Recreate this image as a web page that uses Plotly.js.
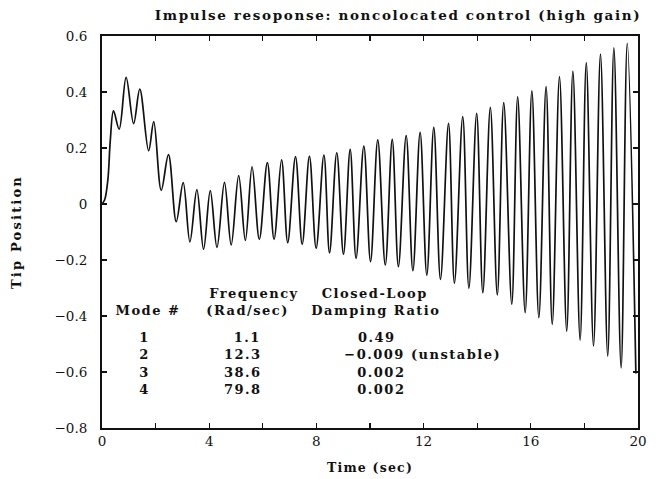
<!DOCTYPE html>
<html>
<head>
<meta charset="utf-8">
<script src="https://cdn.plot.ly/plotly-3.0.1.min.js"></script>
<style>
  html, body { margin: 0; padding: 0; background: #fff; }
  #plot { width: 658px; height: 479px; }
  #plot .annotation-text { letter-spacing: 1.5px; }
  #plot .gtitle { letter-spacing: 1.65px; }
  #plot .xtitle { letter-spacing: 1.2px; }
  #plot .ytitle { letter-spacing: 2.2px; }
</style>
</head>
<body>
<div id="plot"></div>
<script>
// Tip position (time in sec, value)
const timeSec = [0, 0.10, 0.22, 0.31, 0.43, 0.64, 0.90, 1.18, 1.41, 1.74, 1.93, 2.21, 2.48, 2.77, 3.03,
  3.28, 3.54, 3.79, 4.04, 4.29, 4.57, 4.82, 5.10, 5.35, 5.60, 5.87, 6.17, 6.42, 6.70, 6.93,
  7.22, 7.47, 7.74, 7.99, 8.28, 8.49, 8.76, 9.01, 9.26, 9.48, 9.77, 10.02, 10.29, 10.57, 10.83,
  11.06, 11.35, 11.60, 11.87, 12.12, 12.38, 12.63, 12.93, 13.15, 13.46, 13.69, 13.98, 14.21,
  14.49, 14.75, 14.99, 15.29, 15.51, 15.79, 16.04, 16.30, 16.57, 16.80, 17.07, 17.34, 17.57,
  17.84, 18.07, 18.34, 18.60, 18.87, 19.10, 19.37, 19.60, 19.92];
const tipPosition = [0, 0.015, 0.088, 0.228, 0.333, 0.267, 0.452, 0.287, 0.410, 0.190, 0.294, 0.049, 0.176, -0.063, 0.076,
  -0.135, 0.051, -0.162, 0.048, -0.155, 0.077, -0.146, 0.101, -0.130, 0.133, -0.126, 0.148, -0.126, 0.158, -0.138,
  0.169, -0.144, 0.171, -0.158, 0.175, -0.174, 0.183, -0.179, 0.195, -0.194, 0.207, -0.206, 0.229, -0.218, 0.231,
  -0.224, 0.244, -0.238, 0.256, -0.254, 0.274, -0.269, 0.288, -0.283, 0.312, -0.301, 0.324, -0.317,
  0.345, -0.325, 0.362, -0.358, 0.383, -0.388, 0.404, -0.406, 0.419, -0.430, 0.455, -0.454, 0.475,
  -0.486, 0.505, -0.507, 0.535, -0.543, 0.558, -0.585, 0.574, -0.605];

// Table of modes
const modeNumbers = ['1', '2', '3', '4'];
const frequencies = ['1.1', '12.3', '38.6', '79.8'];
const dampingRatios = ['0.49', '\u22120.009 (unstable)', '0.002', '0.002'];
const rowY = [-0.475, -0.539, -0.603, -0.664];

const xTickVals = [0, 2, 4, 6, 8, 10, 12, 14, 16, 18, 20];
const xTickText = ['0', '', '4', '', '8', '', '12', '', '16', '', '20'];
const yTickVals = [-0.8, -0.6, -0.4, -0.2, 0, 0.2, 0.4, 0.6];

const FONT = 'DejaVu Serif, Liberation Serif, serif';
const INK = '#111';

const annotations = [];
function addText(text, x, y, anchor) {
  annotations.push({ text: '<b>' + text + '</b>', x: x, y: y, xref: 'x', yref: 'y',
    xanchor: anchor, yanchor: 'middle', showarrow: false, borderpad: 0,
    font: { family: FONT, size: 13, color: INK } });
}
addText('Frequency', 5.69, -0.321, 'center');
addText('Closed-Loop', 10.17, -0.321, 'center');
addText('Mode #', 1.70, -0.382, 'center');
addText('(Rad/sec)', 5.43, -0.382, 'center');
addText('Damping Ratio', 10.24, -0.382, 'center');
modeNumbers.forEach((m, i) => {
  addText(m, 1.59, rowY[i], 'center');
  addText(frequencies[i], 5.88, rowY[i], 'right');
  const d = dampingRatios[i];
  addText(d, d.startsWith('\u2212') ? 9.49 : 9.61, rowY[i], 'left');
});

const trace = {
  x: timeSec, y: tipPosition, type: 'scatter', mode: 'lines',
  line: { color: INK, width: 1.7, shape: 'spline', smoothing: 1 },
  hoverinfo: 'skip'
};

const layout = {
  width: 658, height: 479,
  margin: { l: 102, r: 20, t: 36, b: 51 },
  paper_bgcolor: '#fff', plot_bgcolor: '#fff',
  showlegend: false,
  font: { family: FONT, color: INK, size: 13 },
  title: { text: '<b>Impulse resoponse: noncolocated control (high gain)</b>',
    x: 398 / 658, xanchor: 'center', y: 1 - 15 / 479, yanchor: 'middle',
    font: { family: FONT, size: 13.5, color: INK } },
  xaxis: {
    range: [0, 20], tickvals: xTickVals, ticktext: xTickText,
    ticks: 'inside', ticklen: 5, tickwidth: 1.2, tickcolor: INK,
    showline: true, linewidth: 2, linecolor: INK, mirror: 'ticks',
    showgrid: false, zeroline: false,
    tickfont: { family: FONT, size: 13.5, color: INK },
    title: { text: '<b>Time (sec)</b>', standoff: 15, font: { family: FONT, size: 12.5, color: INK } }
  },
  yaxis: {
    range: [-0.8, 0.6], tickvals: yTickVals,
    ticks: 'inside', ticklen: 5, tickwidth: 1.2, tickcolor: INK,
    showline: true, linewidth: 2, linecolor: INK, mirror: 'ticks',
    showgrid: false, zeroline: false, ticklabelstandoff: 10,
    tickfont: { family: FONT, size: 13.5, color: INK },
    title: { text: '<b>Tip Position</b>', standoff: 30, font: { family: FONT, size: 13, color: INK } }
  },
  annotations: annotations
};

Plotly.newPlot('plot', [trace], layout, { staticPlot: true, displayModeBar: false });
</script>
</body>
</html>
